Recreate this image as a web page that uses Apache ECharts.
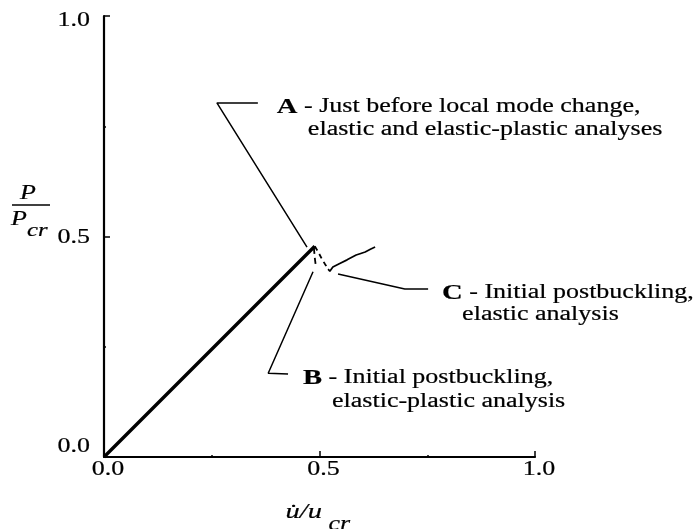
<!DOCTYPE html>
<html>
<head>
<meta charset="utf-8">
<script src="https://cdn.jsdelivr.net/npm/echarts@6/dist/echarts.min.js"></script>
<style>
html,body{margin:0;padding:0;background:#fff;}
#chart{width:700px;height:529px;}
</style>
</head>
<body>
<div id="chart"></div>
<script>
// ---- data (u/u_cr, P/P_cr) ----
const xTicks = [0.0, 0.5, 1.0];
const yTicks = [0.0, 0.5, 1.0];
const prebuckling = [[0, 0], [0.489, 0.478]];
const dashToC = [[0.489, 0.478], [0.497, 0.465], [0.505, 0.450], [0.513, 0.437], [0.520, 0.426]];
const curveC = [[0.520, 0.426], [0.524, 0.421], [0.531, 0.431], [0.547, 0.439], [0.564, 0.447], [0.585, 0.458], [0.594, 0.461], [0.606, 0.465], [0.618, 0.471], [0.629, 0.476]];
const dashB = [[0.487, 0.474], [0.489, 0.452], [0.492, 0.429]];
const leaderA = [[0.357, 0.803], [0.262, 0.803], [0.471, 0.476]];
const leaderB = [[0.427, 0.188], [0.381, 0.190], [0.485, 0.420]];
const leaderC = [[0.543, 0.415], [0.698, 0.381], [0.752, 0.381]];
const labelA = ['A', ' - Just before local mode change,', 'elastic and elastic-plastic analyses'];
const labelB = ['B', ' - Initial postbuckling,', 'elastic-plastic analysis'];
const labelC = ['C', ' - Initial postbuckling,', 'elastic analysis'];

const FONT = '"Liberation Serif","Times New Roman",serif';
const SX = 1.3; // the scanned figure's type is wide
const chart = echarts.init(document.getElementById('chart'));

function line(data, width, type) {
  return {
    type: 'line', data: data, symbol: 'none', silent: true, animation: false,
    lineStyle: { color: '#000', width: width, type: type || 'solid' }
  };
}

chart.setOption({
  backgroundColor: '#fff',
  animation: false,
  grid: { left: 104, top: 16, width: 431, height: 441, containLabel: false },
  xAxis: {
    type: 'value', min: 0, max: 1, interval: 0.5,
    axisLine: { show: true, lineStyle: { color: '#000', width: 2.2 } },
    axisTick: { show: true, inside: true, length: 6, lineStyle: { color: '#000', width: 1.5 } },
    minorTick: { show: true, splitNumber: 2, length: 2, lineStyle: { color: '#000', width: 1.5 } },
    splitLine: { show: false },
    axisLabel: { show: false }
  },
  yAxis: {
    type: 'value', min: 0, max: 1, interval: 0.5,
    axisLine: { show: true, lineStyle: { color: '#000', width: 2.2 } },
    axisTick: { show: true, inside: true, length: 6, lineStyle: { color: '#000', width: 1.5 } },
    minorTick: { show: true, splitNumber: 2, length: 2, lineStyle: { color: '#000', width: 1.5 } },
    splitLine: { show: false },
    axisLabel: { show: false }
  },
  series: [
    line(prebuckling, 3.4),
    line(dashToC, 1.8, [5, 4]),
    line(curveC, 1.7),
    line(dashB, 1.8, [6, 4]),
    line(leaderA, 1.5),
    line(leaderB, 1.5),
    line(leaderC, 1.5)
  ]
});

function p(pt) { return chart.convertToPixel({ gridIndex: 0 }, pt); }

function txt(x, y, text, font, align, extra) {
  return Object.assign({ type: 'text', x: x, y: y, scaleX: SX,
    style: Object.assign({ text: text, fill: '#000', font: font, align: align || 'left', verticalAlign: 'middle',
      stroke: '#000', lineWidth: 0.2 }, extra || {}) });
}

function labelGroup(anchor, lab, indent, gap, lineGap) {
  const a = p(anchor);
  return {
    type: 'group', x: a[0] + gap, y: a[1] + 4,
    children: [
      txt(0, 0, '{b|' + lab[0] + '}' + lab[1], '20px ' + FONT, 'left',
        { rich: { b: { fontFamily: FONT, fontSize: 22, fontWeight: 'bold', fill: '#000' } } }),
      txt(indent, lineGap, lab[2], '20px ' + FONT, 'left')
    ]
  };
}

const g = [];
// tick labels
xTicks.forEach(v => {
  const q = p([v, 0]);
  g.push(txt(q[0] + 4, q[1] + 13, v.toFixed(1), '20px ' + FONT, 'center'));
});
yTicks.forEach((v, i) => {
  const q = p([0, v]);
  const dy = i === 0 ? -10 : (i === yTicks.length - 1 ? 5 : 1);
  g.push(txt(q[0] - 14, q[1] + dy, v.toFixed(1), '20px ' + FONT, 'right'));
});
// annotations
g.push(labelGroup(leaderA[0], labelA, 31, 19, 23));
g.push(labelGroup(leaderB[0], labelB, 29, 15, 24));
g.push(labelGroup(leaderC[2], labelC, 20, 14, 22));
// axis titles
const xm = p([0.5, 0]);
g.push(txt(xm[0] - 34, xm[1] + 55, 'u\u0307/u', 'italic 22px ' + FONT, 'left'));
g.push(txt(xm[0] + 9, xm[1] + 68, 'cr', 'italic 20px ' + FONT, 'left'));
g.push(txt(20, 194, 'P', 'italic 20px ' + FONT, 'left'));
g.push({ type: 'line', shape: { x1: 12, y1: 205, x2: 50, y2: 205 }, style: { stroke: '#000', lineWidth: 1.5 } });
g.push(txt(11, 220, 'P', 'italic 20px ' + FONT, 'left'));
g.push(txt(27, 231, 'cr', 'italic 19px ' + FONT, 'left'));

chart.setOption({ graphic: g });
</script>
</body>
</html>
